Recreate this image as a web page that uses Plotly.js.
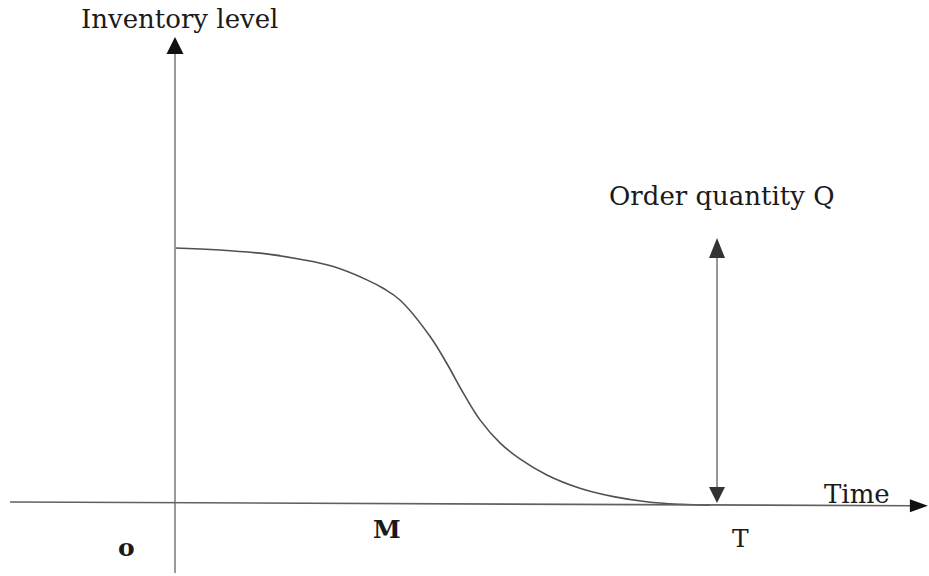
<!DOCTYPE html>
<html>
<head>
<meta charset="utf-8">
<script src="https://cdn.plot.ly/plotly-3.0.1.min.js"></script>
<style>
  html, body { margin: 0; padding: 0; background: #fff; }
  #plot { width: 929px; height: 576px; }
</style>
</head>
<body>
<div id="plot"></div>
<script>
// Inventory level over one cycle (time scaled so T = 1, level scaled so start = 1)
var time = [0, 0.083, 0.175, 0.231, 0.292, 0.354, 0.384, 0.415, 0.470, 0.501, 0.532, 0.563, 0.600, 0.637, 0.686, 0.747, 0.809, 0.870, 0.932, 0.987];
var level = [1.0, 0.992, 0.975, 0.956, 0.927, 0.875, 0.842, 0.796, 0.655, 0.549, 0.431, 0.325, 0.235, 0.172, 0.110, 0.058, 0.025, 0.005, -0.005, -0.009];

// Marked points on the time axis
var T = 1.0;
var orderTop = 1.039;

// Labels
var axisLabels = ["Inventory level", "Time"];
var tickLabels = ["o", "M", "T"];
var tickX = [-0.089, 0.391, 1.044];
var tickY = [-0.176, -0.102, -0.141];

var xRange = [-0.3229, 1.3911];
var yRange = [-0.2863, 1.9725];

// px per unit, used only to size arrowheads
var sx = 542, sy = 255;

function triUp(x, tipY, len, half) {
    return "M" + (x - half / sx) + "," + (tipY - len / sy) +
        " L" + x + "," + tipY +
        " L" + (x + half / sx) + "," + (tipY - len / sy) + " Z";
}
function triDown(x, tipY, len, half) {
    return "M" + (x - half / sx) + "," + (tipY + len / sy) +
        " L" + x + "," + tipY +
        " L" + (x + half / sx) + "," + (tipY + len / sy) + " Z";
}
function triRight(tipX, y, len, half) {
    return "M" + (tipX - len / sx) + "," + (y + half / sy) +
        " L" + tipX + "," + y +
        " L" + (tipX - len / sx) + "," + (y - half / sy) + " Z";
}

var curve = {
    x: time,
    y: level,
    mode: "lines",
    type: "scatter",
    line: {color: "#505050", width: 1.6, shape: "spline", smoothing: 1.1},
    hoverinfo: "skip"
};

var serif = "DejaVu Serif, Liberation Serif, serif";

var shapes = [
    // vertical axis
    {type: "line", xref: "x", yref: "y", x0: 0, x1: 0, y0: -0.2745, y1: 1.77,
        line: {color: "#9a9a9a", width: 2}},
    {type: "path", xref: "x", yref: "y", path: triUp(0, 1.827, 17, 8.5),
        fillcolor: "#111", line: {width: 0}},
    // horizontal axis
    {type: "line", xref: "x", yref: "y", x0: -0.3044, x1: 1.36, y0: 0.004, y1: -0.011,
        line: {color: "#606060", width: 1.6}},
    {type: "path", xref: "x", yref: "y", path: triRight(1.389, -0.011, 18, 6.5),
        fillcolor: "#111", line: {width: 0}},
    // order quantity double arrow
    {type: "line", xref: "x", yref: "y", x0: T, x1: T, y0: 0.03, y1: orderTop - 0.05,
        line: {color: "#7a7a7a", width: 1.6}},
    {type: "path", xref: "x", yref: "y", path: triUp(T, orderTop, 20, 8),
        fillcolor: "#333", line: {width: 0}},
    {type: "path", xref: "x", yref: "y", path: triDown(T, 0.0, 16, 8),
        fillcolor: "#333", line: {width: 0}}
];

var annotations = [
    {x: 0.009, y: 1.898, text: axisLabels[0]},
    {x: 1.009, y: 1.204, text: "Order quantity Q"},
    {x: 1.258, y: 0.035, text: axisLabels[1]}
].map(function (a) {
    return {x: a.x, y: a.y, xref: "x", yref: "y", text: a.text, showarrow: false,
        font: {family: serif, size: 26, color: "#1a1a1a"}};
});

for (var i = 0; i < tickLabels.length; i++) {
    annotations.push({
        x: tickX[i], y: tickY[i], xref: "x", yref: "y", text: tickLabels[i], showarrow: false,
        font: {family: serif, size: 25, color: "#1a1a1a", weight: i === 2 ? "normal" : "bold"}
    });
}

var layout = {
    width: 929,
    height: 576,
    margin: {l: 0, r: 0, t: 0, b: 0},
    paper_bgcolor: "#fff",
    plot_bgcolor: "#fff",
    showlegend: false,
    xaxis: {range: xRange, visible: false, fixedrange: true},
    yaxis: {range: yRange, visible: false, fixedrange: true},
    shapes: shapes,
    annotations: annotations
};

Plotly.newPlot("plot", [curve], layout, {staticPlot: true});
</script>
</body>
</html>
